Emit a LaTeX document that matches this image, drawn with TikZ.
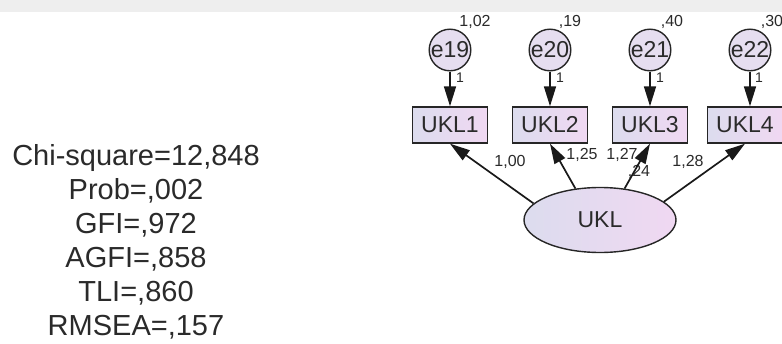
\documentclass[tikz,border=0pt]{standalone}
\usepackage{fontspec}
\setmainfont{Liberation Sans}
\usetikzlibrary{shapes.geometric,arrows.meta}
\definecolor{lavL}{HTML}{DCDCEE}
\definecolor{lavR}{HTML}{F0D8F2}
\definecolor{lavC}{HTML}{E6DEF0}
\definecolor{txt}{HTML}{2A2A2A}
\definecolor{band}{HTML}{EEEEEE}
\begin{document}
\begin{tikzpicture}[x=1pt,y=-1pt,
  obs/.style={draw=black!85, line width=1.4pt, left color=lavL, right color=lavR, minimum width=75pt, minimum height=36pt, inner sep=0pt, font=\fontsize{23}{23}\selectfont, text=txt},
  err/.style={circle, draw=black!85, line width=1.4pt, fill=lavC, minimum size=31pt, inner sep=0pt, font=\fontsize{23}{23}\selectfont, text=txt},
  lat/.style={ellipse, draw=black!85, line width=1.4pt, left color=lavL, right color=lavR, minimum width=152pt, minimum height=65pt, inner sep=0pt, font=\fontsize{23}{23}\selectfont, text=txt},
  est/.style={font=\fontsize{16}{16}\selectfont, text=txt, inner sep=0pt},
  one/.style={font=\fontsize{14}{14}\selectfont, text=txt, inner sep=0pt},
  arr/.style={-{Triangle[length=20pt,width=12pt]}, line width=1.7pt, draw=black!90},
  fitstyle/.style={align=center, font=\fontsize{29}{34}\selectfont, text=txt, inner sep=0pt},
]
\useasboundingbox (0,0) rectangle (782,343);
\fill[band] (0,0) rectangle (782,12);

% fit indices
\node[fitstyle] (fit) at (136,242) {Chi-square=12,848\\Prob=,002\\GFI=,972\\AGFI=,858\\TLI=,860\\RMSEA=,157};

% error terms
\node[err] (e19) at (450,50) {e19};
\node[err] (e20) at (550,50) {e20};
\node[err] (e21) at (650,50) {e21};
\node[err] (e22) at (750,50) {e22};

% variance labels
\node[est] (v19) at (475,22) {1,02};
\node[est] (v20) at (570,22) {,19};
\node[est] (v21) at (672,22) {,40};
\node[est] (v22) at (772,22) {,30};

% observed
\node[obs] (b1) at (450,125) {UKL1};
\node[obs] (b2) at (550,125) {UKL2};
\node[obs] (b3) at (650,125) {UKL3};
\node[obs] (b4) at (745,125) {UKL4};

% latent
\node[lat] (ukl) at (600,220) {UKL};

% error arrows
\draw[arr] (e19) -- (b1.north -| e19);
\draw[arr] (e20) -- (b2.north -| e20);
\draw[arr] (e21) -- (b3.north -| e21);
\draw[arr] (e22) -- (b4.north -| e22);
\node[one] (o19) at (460,78) {1};
\node[one] (o20) at (560,78) {1};
\node[one] (o21) at (660,78) {1};
\node[one] (o22) at (759,78) {1};

% loading labels
\node[est] (l1) at (510,162) {1,00};
\node[est] (l2) at (582,155) {1,25};
\node[est] (l3) at (622,155) {1,27};
\node[est] (vu) at (639,172) {,24};
\node[est] (l4) at (688,162) {1,28};

% loadings
\draw[arr] (ukl.166) -- (b1.south);
\draw[arr] (ukl.128) -- (b2.south);
\draw[arr] (ukl.52) -- (b3.south);
\draw[arr] (ukl.16) -- (b4.south);
\end{tikzpicture}
\end{document}
